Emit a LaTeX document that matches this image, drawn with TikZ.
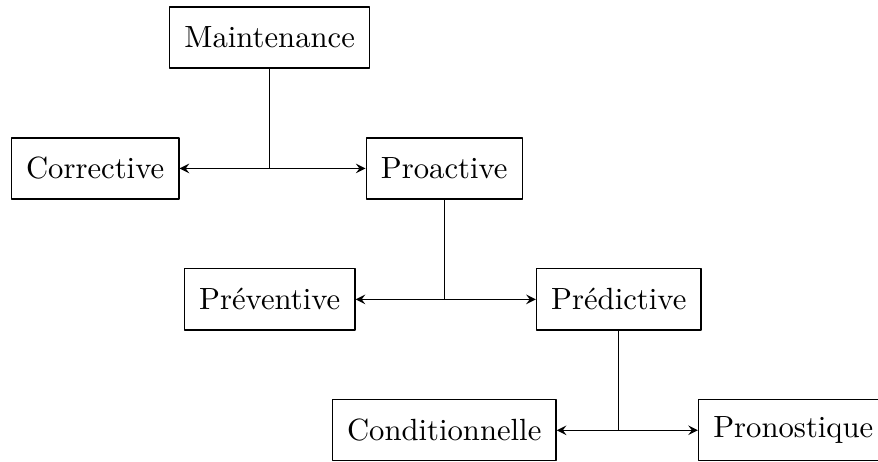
\documentclass[tikz,border=0pt]{standalone}
\begin{document}
\begin{tikzpicture}[line join=round, >=stealth,
	box/.style={draw, minimum height=0.7cm, inner xsep=4.8pt}]
	\useasboundingbox (-3.09,-4.86) rectangle (6.97,0.43);
	\node[box] (mnt) at (0,0) {Maintenance};
	\node[box] (cor) at (-2,-1.5) {Corrective};
	\node[box] (pro) at (2,-1.5) {Proactive};
	\node[box] (prev) at (0,-3) {Préventive};
	\node[box] (pred) at (4,-3) {Prédictive};
	\node[box] (cond) at (2,-4.5) {Conditionnelle};
	\node[box] (pron) at (6,-4.5) {Pronostique};
	
	\draw (mnt) -- (mnt |- cor) (pro) -- (pro |- prev) (pred) -- (pred |- cond);
	\draw[<->] (cor) -- (pro);
	\draw[<->] (prev) -- (pred);
	\draw[<->] (cond) -- (pron);
\end{tikzpicture}
\end{document}
